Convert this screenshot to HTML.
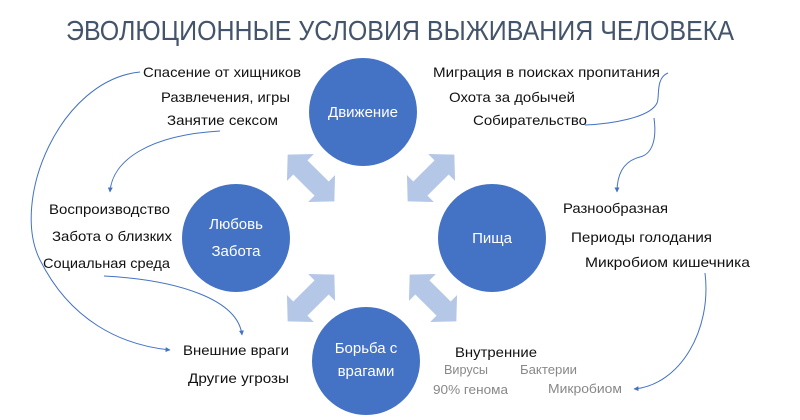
<!DOCTYPE html>
<html><head><meta charset="utf-8"><style>
html,body{margin:0;padding:0;background:#fff;}
svg{display:block;font-family:"Liberation Sans",sans-serif;}
</style></head><body>
<svg width="800" height="420" viewBox="0 0 800 420" xmlns="http://www.w3.org/2000/svg">
<defs>
<marker id="ah" viewBox="0 0 10 10" refX="9" refY="5" markerWidth="5" markerHeight="5" orient="auto">
<path d="M0,0 L10,5 L0,10 z" fill="#4472c4"/></marker>
<polygon id="dar" points="-33,0 -15,-19 -15,-10 15,-10 15,-19 33,0 15,19 15,10 -15,10 -15,19" fill="#b4c7e7"/>
</defs>
<text x="400" y="40" text-anchor="middle" font-size="28" fill="#44546a" textLength="668" lengthAdjust="spacingAndGlyphs">ЭВОЛЮЦИОННЫЕ УСЛОВИЯ ВЫЖИВАНИЯ ЧЕЛОВЕКА</text>

<use href="#dar" transform="translate(311,178) rotate(45)"/>
<use href="#dar" transform="translate(431,178) rotate(-45)"/>
<use href="#dar" transform="translate(311,298) rotate(-45)"/>
<use href="#dar" transform="translate(433,298) rotate(45)"/>

<g fill="#4472c4">
<circle cx="363" cy="112" r="54"/>
<circle cx="492" cy="238" r="54"/>
<circle cx="236" cy="238" r="54"/>
<circle cx="366" cy="361" r="54"/>
</g>
<g fill="#fff" font-size="15" text-anchor="middle">
<text x="363" y="117">Движение</text>
<text x="492" y="243">Пища</text>
<text x="236" y="229">Любовь</text>
<text x="236" y="256">Забота</text>
<text x="366" y="353">Борьба с</text>
<text x="366" y="376">врагами</text>
</g>

<g fill="none" stroke="#4472c4" stroke-width="1">
<path d="M140,72 C60,80 10,200 40,260 C70,320 120,345 170,350" marker-end="url(#ah)"/>
<path d="M220,131 C150,135 112,160 110,192" marker-end="url(#ah)"/>
<path d="M104,276 C180,280 238,300 242,335" marker-end="url(#ah)"/>
<path d="M668,73 C655,78 660,98 657,103 C650,118 610,124 585,125"/>
<path d="M654,118 C657,140 652,154 640,157 C620,162 617,180 617,192" marker-end="url(#ah)"/>
<path d="M705,273 C712,330 680,385 634,389" marker-end="url(#ah)"/>
</g>

<g font-size="14" fill="#111">
<text x="143" y="77" textLength="158" lengthAdjust="spacingAndGlyphs">Спасение от хищников</text>
<text x="161" y="102" textLength="129" lengthAdjust="spacingAndGlyphs">Развлечения, игры</text>
<text x="167" y="125" textLength="111" lengthAdjust="spacingAndGlyphs">Занятие сексом</text>
<text x="49" y="214" textLength="121" lengthAdjust="spacingAndGlyphs">Воспроизводство</text>
<text x="52" y="241" textLength="120" lengthAdjust="spacingAndGlyphs">Забота о близких</text>
<text x="43" y="268" textLength="127" lengthAdjust="spacingAndGlyphs">Социальная среда</text>
<text x="183" y="355" textLength="106" lengthAdjust="spacingAndGlyphs">Внешние враги</text>
<text x="188" y="383" textLength="101" lengthAdjust="spacingAndGlyphs">Другие угрозы</text>
<text x="433" y="77" textLength="227" lengthAdjust="spacingAndGlyphs">Миграция в поисках пропитания</text>
<text x="449" y="102" textLength="126" lengthAdjust="spacingAndGlyphs">Охота за добычей</text>
<text x="473" y="125" textLength="114" lengthAdjust="spacingAndGlyphs">Собирательство</text>
<text x="563" y="213" textLength="105" lengthAdjust="spacingAndGlyphs">Разнообразная</text>
<text x="571" y="242" textLength="141" lengthAdjust="spacingAndGlyphs">Периоды голодания</text>
<text x="585" y="267" textLength="165" lengthAdjust="spacingAndGlyphs">Микробиом кишечника</text>
<text x="455" y="357" textLength="82" lengthAdjust="spacingAndGlyphs">Внутренние</text>
</g>
<g font-size="13" fill="#888">
<text x="444" y="374" textLength="44" lengthAdjust="spacingAndGlyphs">Вирусы</text>
<text x="520" y="374" textLength="57" lengthAdjust="spacingAndGlyphs">Бактерии</text>
<text x="433" y="394" textLength="75" lengthAdjust="spacingAndGlyphs">90% генома</text>
<text x="548" y="393" textLength="74" lengthAdjust="spacingAndGlyphs">Микробиом</text>
</g>
</svg>
</body></html>
